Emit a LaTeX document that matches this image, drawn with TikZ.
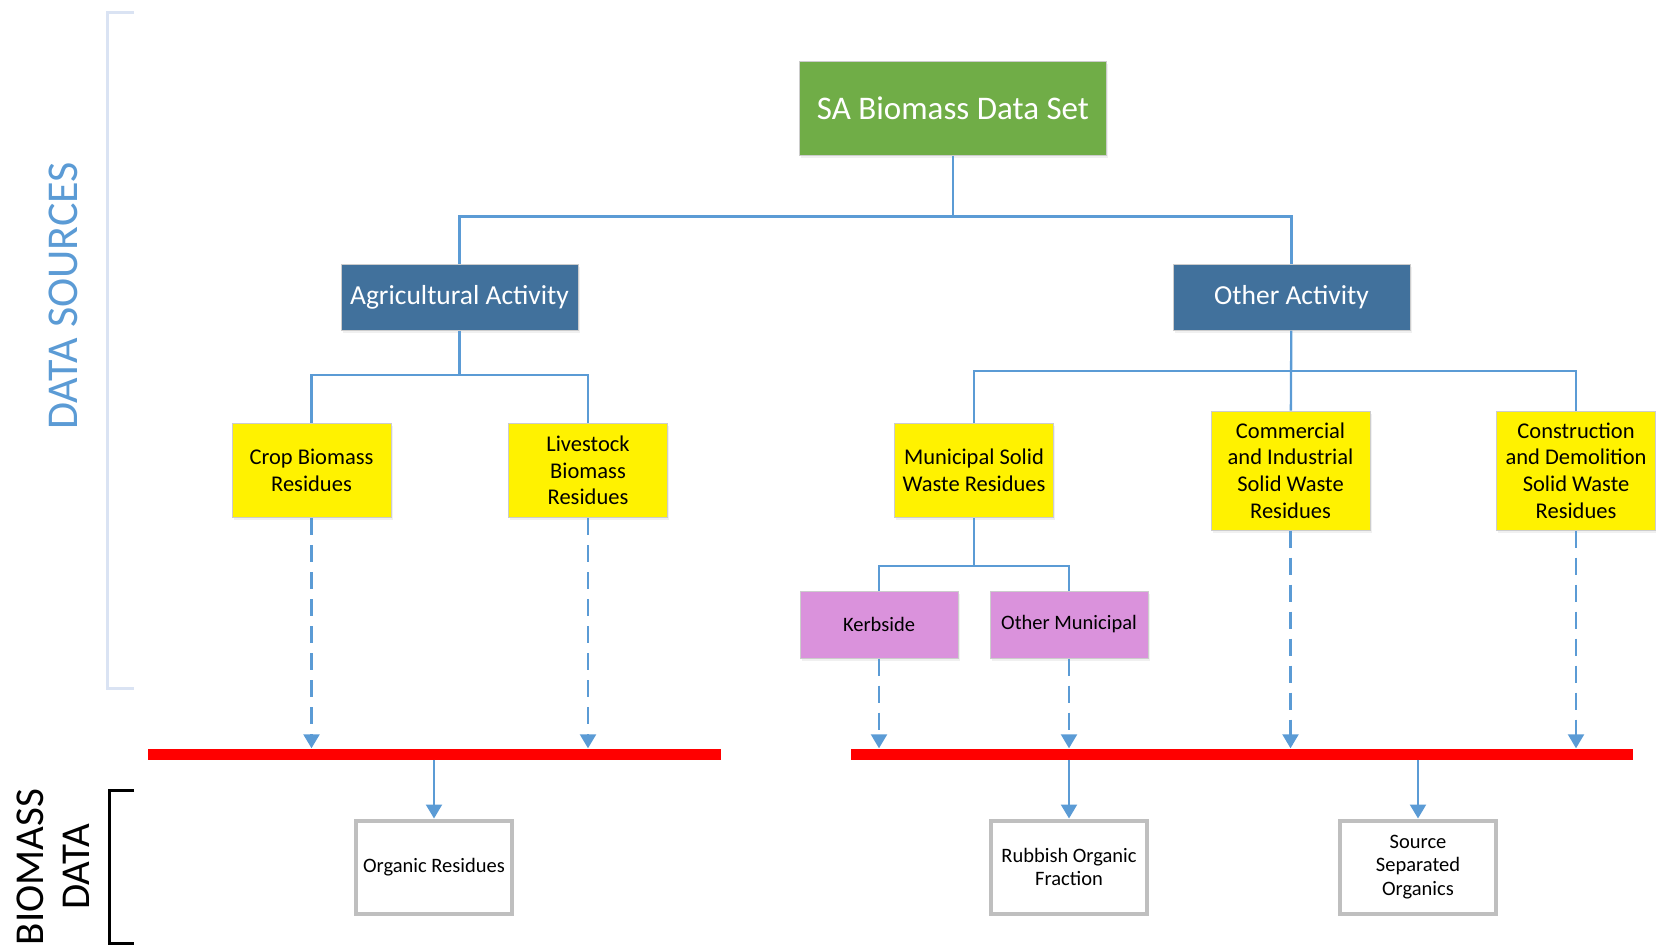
\documentclass[tikz,border=0pt]{standalone}
\usepackage{fontspec}
\setmainfont{Carlito}
\usepackage{tikz}
\usetikzlibrary{arrows.meta, positioning, shadows}
\definecolor{leafgreen}{RGB}{112, 173, 71}
\definecolor{steelblue}{RGB}{65, 113, 156}
\definecolor{linkblue}{RGB}{91, 155, 213}
\definecolor{mauve}{RGB}{218, 146, 220}
\definecolor{framegray}{RGB}{191, 191, 191}
\definecolor{bracketblue}{RGB}{218, 227, 243}

\begin{document}
\begin{tikzpicture}[x=1pt, y=-1pt,
        box/.style={rectangle, draw=black!20, line width=1pt, inner sep=2pt, align=center, drop shadow={opacity=0.12, shadow xshift=1.5pt, shadow yshift=-2.5pt}},
        rootbox/.style={box, fill=leafgreen, text=white, minimum width=307pt, minimum height=94pt, font=\fontsize{33}{39}\selectfont},
        activity/.style={box, fill=steelblue, text=white, minimum width=237pt, minimum height=66pt, font=\fontsize{27.5}{32}\selectfont},
        source/.style={box, fill=yellow, minimum width=159pt, minimum height=94pt, font=\fontsize{22.5}{26.7}\selectfont},
        stream/.style={box, fill=mauve, minimum width=158pt, minimum height=67pt, font=\fontsize{20.5}{24}\selectfont},
        product/.style={box, draw=framegray, line width=4pt, fill=white, minimum width=156pt, minimum height=93pt, font=\fontsize{20.5}{23.5}\selectfont},
        bar/.style={rectangle, fill=red, minimum height=11pt, inner sep=0pt},
        link/.style={draw=linkblue, line width=2.3pt},
        feed/.style={link, dash pattern=on 17pt off 10pt, -{Triangle[width=16pt, length=14pt]}},
        collect/.style={link, -{Triangle[width=16pt, length=14pt]}}
    ]
        \useasboundingbox (0,0) rectangle (1656,951);

        % Side brackets
        \draw[bracketblue, line width=3pt] (134,12.7) -| (107,688.6) -- (134,688.6);
        \draw[black, line width=3pt] (134,790) -| (109,943) -- (134,943);
        \node[rotate=90, text=linkblue, font=\fontsize{44}{48}\selectfont] (sourcelabel) at (63,296) {DATA SOURCES};
        \node[rotate=90, align=center, font=\fontsize{41}{46}\selectfont] (datalabel) at (53,867) {BIOMASS\\DATA};

        % Top levels
        \node[rootbox] (dataset) at (953,108) {SA Biomass Data Set};
        \node[activity] (agri) at (459.5,297) {Agricultural Activity};
        \node[activity] (other) at (1291.5,297) {Other Activity};

        % Sources
        \node[source] (crop) at (311.5,470.5) {Crop Biomass\\Residues};
        \node[source] (livestock) at (588,470.5) {Livestock\\Biomass\\Residues};
        \node[source] (msw) at (974,470.5) {Municipal Solid\\Waste Residues};
        \node[source, minimum height=119pt] (ciwaste) at (1290.5,470.5) {Commercial\\and Industrial\\Solid Waste\\Residues};
        \node[source, minimum height=119pt] (cdwaste) at (1576,470.5) {Construction\\and Demolition\\Solid Waste\\Residues};
        \node[stream] (kerbside) at (879,624.5) {Kerbside};
        \node[stream] (othermun) at (1069,624.5) {Other Municipal};

        % Collector bars
        \node[bar, minimum width=573pt] (agribar) at (434.5,754) {};
        \node[bar, minimum width=782pt] (otherbar) at (1242,754) {};

        % Biomass data
        \node[product] (organic) at (434,867) {Organic Residues};
        \node[product] (rubbish) at (1069,867) {Rubbish Organic\\Fraction};
        \node[product] (separated) at (1418,867) {Source\\Separated\\Organics};

        % Tree connections
        \coordinate (rootsplit) at (953,216.5);
        \coordinate (agrisplit) at (459.5,375);
        \coordinate (othersplit) at (1291.5,371);
        \coordinate (mswsplit) at (974,566);
        \draw[link] (dataset) -- (rootsplit) -| (agri);
        \draw[link] (rootsplit) -| (other);
        \draw[link] (agri) -- (agrisplit) -| (crop);
        \draw[link] (agrisplit) -| (livestock);
        \draw[link] (other) -- (ciwaste);
        \draw[link] (othersplit) -| (msw);
        \draw[link] (othersplit) -| (cdwaste);
        \draw[link] (msw) -- (mswsplit) -| (kerbside);
        \draw[link] (mswsplit) -| (othermun);

        % Feeds into bars
        \draw[feed] (crop) -- (crop |- agribar.north);
        \draw[feed] (livestock) -- (livestock |- agribar.north);
        \draw[feed] (kerbside) -- (kerbside |- otherbar.north);
        \draw[feed] (othermun) -- (othermun |- otherbar.north);
        \draw[feed] (ciwaste) -- (ciwaste |- otherbar.north);
        \draw[feed] (cdwaste) -- (cdwaste |- otherbar.north);

        % Bars to data
        \draw[collect] (agribar.south -| organic) -- (organic);
        \draw[collect] (otherbar.south -| rubbish) -- (rubbish);
        \draw[collect] (otherbar.south -| separated) -- (separated);

    \end{tikzpicture}
\end{document}
